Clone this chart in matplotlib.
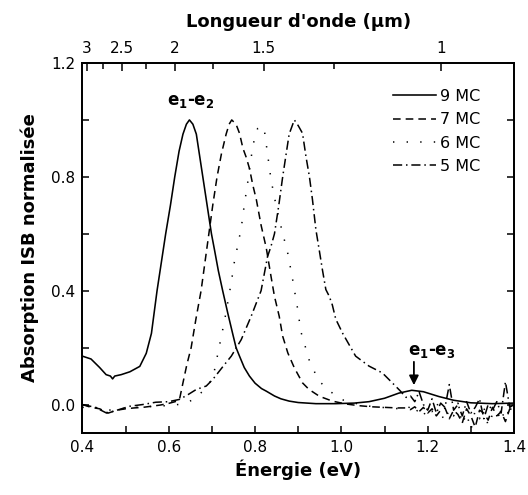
import matplotlib
matplotlib.use("Agg")
import matplotlib.pyplot as plt
from matplotlib.ticker import MultipleLocator, FixedLocator, NullFormatter

plt.rcParams['font.family'] = ['DejaVu Sans']
plt.rcParams['mathtext.default'] = 'bf'

# ---------------- data ----------------
labels = ["9 MC", "7 MC", "6 MC", "5 MC"]

e_9mc = [0.40, 0.42, 0.44, 0.455, 0.465, 0.47, 0.475, 0.49, 0.51, 0.533, 0.548, 0.56,
         0.573, 0.583, 0.593, 0.604, 0.614, 0.624, 0.633, 0.641, 0.648, 0.656, 0.664,
         0.671, 0.679, 0.689, 0.699, 0.706, 0.715, 0.725, 0.737, 0.748, 0.756, 0.764,
         0.775, 0.787, 0.80, 0.815, 0.826, 0.845, 0.86, 0.879, 0.90, 0.941, 0.987, 1.03,
         1.064, 1.10, 1.133, 1.163, 1.19, 1.226, 1.26, 1.30, 1.35, 1.40]
a_9mc = [0.17, 0.16, 0.13, 0.105, 0.10, 0.09, 0.10, 0.105, 0.115, 0.134, 0.18, 0.25,
         0.40, 0.50, 0.60, 0.70, 0.80, 0.89, 0.95, 0.985, 1.0, 0.985, 0.95,
         0.88, 0.80, 0.70, 0.60, 0.544, 0.47, 0.40, 0.32, 0.25, 0.20, 0.17,
         0.13, 0.10, 0.075, 0.056, 0.047, 0.03, 0.02, 0.012, 0.007, 0.003, 0.003, 0.005,
         0.01, 0.022, 0.04, 0.05, 0.045, 0.028, 0.015, 0.006, 0.003, 0.005]

e_7mc = [0.40, 0.42, 0.44, 0.46, 0.48, 0.50, 0.52, 0.54, 0.56, 0.58, 0.60, 0.615, 0.625,
         0.633, 0.642, 0.652, 0.663, 0.675, 0.684, 0.693, 0.702, 0.712, 0.722, 0.733,
         0.740, 0.746, 0.756, 0.764, 0.772, 0.779, 0.787, 0.795, 0.803, 0.814, 0.826,
         0.837, 0.845, 0.856, 0.864, 0.876, 0.891, 0.91, 0.925, 0.949, 0.979, 1.01, 1.04,
         1.07, 1.10, 1.13,
         1.15, 1.16, 1.17, 1.18, 1.19, 1.20, 1.21, 1.22, 1.23, 1.24, 1.25, 1.26, 1.27,
         1.28, 1.29, 1.30, 1.31, 1.32, 1.33, 1.34, 1.35, 1.36, 1.37, 1.38, 1.39, 1.40]
a_7mc = [0.00, -0.01, -0.015, -0.03, -0.02, -0.015, -0.012, -0.01, -0.006, -0.002, 0.004,
         0.01, 0.018, 0.076, 0.14, 0.20, 0.30, 0.40, 0.50, 0.60, 0.70, 0.80, 0.88, 0.95,
         0.985, 1.0, 0.985, 0.953, 0.90, 0.871, 0.83, 0.77, 0.72, 0.63, 0.55,
         0.45, 0.38, 0.31, 0.24, 0.181, 0.129, 0.076, 0.053, 0.029, 0.012, 0.002, -0.004,
         -0.008, -0.01, -0.012,
         -0.012, -0.018, -0.008, -0.025, -0.01, -0.03, -0.015, -0.04, -0.02, -0.012, -0.05,
         -0.02, -0.035, -0.065, -0.015, -0.04, -0.08, -0.02, -0.03, -0.055, -0.01, -0.04,
         -0.025, -0.06, -0.015, -0.02]

e_6mc = [0.40, 0.43, 0.46, 0.49, 0.52, 0.55, 0.58, 0.61, 0.64, 0.66, 0.679, 0.687, 0.699,
         0.706, 0.714, 0.722, 0.729, 0.737, 0.745, 0.752, 0.760, 0.768, 0.775, 0.783,
         0.790, 0.798, 0.806, 0.815, 0.822, 0.829, 0.837, 0.846, 0.856, 0.866, 0.876,
         0.887, 0.899, 0.906, 0.914, 0.925, 0.937, 0.949, 0.968, 0.999, 1.03, 1.06, 1.09,
         1.12,
         1.15, 1.16, 1.17, 1.18, 1.19, 1.20, 1.21, 1.22, 1.23, 1.24, 1.25, 1.26, 1.27,
         1.28, 1.29, 1.30, 1.31, 1.32, 1.33, 1.34, 1.35, 1.36, 1.37, 1.38, 1.39, 1.40]
a_6mc = [-0.01, -0.01, -0.02, -0.015, -0.01, -0.008, -0.005, -0.003, 0.005, 0.02, 0.047,
         0.064, 0.085, 0.12, 0.18, 0.24, 0.292, 0.36, 0.43, 0.50, 0.56, 0.62, 0.70, 0.78,
         0.86, 0.93, 0.97, 0.98, 0.96, 0.88, 0.79, 0.72, 0.65, 0.59, 0.53,
         0.44, 0.333, 0.257, 0.216, 0.158, 0.117, 0.082, 0.053, 0.018, 0.005, -0.005, -0.01,
         -0.012,
         -0.02, -0.005, -0.03, -0.015, -0.04, -0.01, -0.025, 0.01, -0.03, -0.06, -0.015,
         -0.04, 0.005, -0.07, -0.03, -0.09, -0.02, -0.05, -0.01, -0.075, -0.035, -0.02,
         -0.06, -0.01, -0.04, -0.025]

e_5mc = [0.40, 0.43, 0.456, 0.48, 0.51, 0.54, 0.57, 0.60, 0.625, 0.645, 0.664, 0.687,
         0.702, 0.714, 0.729, 0.745, 0.768, 0.791, 0.814, 0.829, 0.837, 0.845, 0.855,
         0.864, 0.872, 0.879, 0.891, 0.90, 0.91, 0.918, 0.926, 0.933, 0.941, 0.949, 0.956,
         0.964, 0.972, 0.979, 0.987, 1.003, 1.018, 1.033, 1.064, 1.095, 1.118, 1.135,
         1.15, 1.16, 1.17, 1.18, 1.19, 1.20, 1.21, 1.22, 1.23, 1.24, 1.25, 1.26, 1.27,
         1.28, 1.29, 1.30, 1.31, 1.32, 1.33, 1.34, 1.35, 1.36, 1.37, 1.38, 1.39, 1.40]
a_5mc = [0.0, -0.01, -0.03, -0.02, -0.006, 0.0, 0.008, 0.01, 0.018, 0.035, 0.053, 0.065,
         0.088, 0.111, 0.14, 0.17, 0.228, 0.31, 0.40, 0.52, 0.556, 0.60, 0.70,
         0.80, 0.88, 0.95, 1.0, 0.98, 0.953, 0.871, 0.80, 0.72, 0.614, 0.54, 0.474,
         0.404, 0.38, 0.35, 0.30, 0.25, 0.21, 0.17, 0.135, 0.111, 0.076, 0.05,
         0.025, 0.03, 0.01, 0.045, 0.0, -0.02, 0.02, -0.03, 0.005, -0.01, 0.07, -0.02,
         0.0, -0.04, 0.01, -0.03, -0.01, 0.02, -0.05, 0.0, -0.02, 0.01, -0.03, 0.08,
         -0.01, 0.0]

wavelength_major = [3, 2.5, 2, 1.5, 1]
wavelength_minor = [2.75, 2.25, 1.75, 1.25]
hc = 1.23  # eV·µm

# ---------------- figure ----------------
fig = plt.figure(figsize=(5.28, 4.95), dpi=100)
ax = fig.add_axes([0.156, 0.1253, 0.8176, 0.7474])

lw = 1.1
ax.plot(e_9mc, a_9mc, color='black', lw=1.15, ls='-', label=labels[0])
ax.plot(e_7mc, a_7mc, color='black', lw=lw, ls=(0, (5, 3.3)), label=labels[1])
ax.plot(e_6mc, a_6mc, color='black', lw=lw, ls=(0, (0.9, 8)), label=labels[2])
ax.plot(e_5mc, a_5mc, color='black', lw=lw, ls=(0, (6, 2.5, 1, 2.5)), label=labels[3])

ax.set_xlim(0.4, 1.4)
ax.set_ylim(-0.1, 1.2)
ax.xaxis.set_major_locator(MultipleLocator(0.2))
ax.xaxis.set_minor_locator(MultipleLocator(0.1))
ax.yaxis.set_major_locator(MultipleLocator(0.4))
ax.yaxis.set_minor_locator(MultipleLocator(0.2))
ax.xaxis.set_major_formatter(matplotlib.ticker.FuncFormatter(lambda v, p: f"{v:.1f}"))
ax.yaxis.set_major_formatter(matplotlib.ticker.FuncFormatter(lambda v, p: f"{v:.1f}"))
ax.tick_params(axis='both', which='major', direction='in', length=5, width=1.1,
               labelsize=11, right=True, top=False, pad=5)
ax.tick_params(axis='both', which='minor', direction='in', length=5, width=1.1,
               right=True, top=False)
for s in ax.spines.values():
    s.set_linewidth(1.3)

ax.set_xlabel('Énergie (eV)', fontsize=13, fontweight='bold', labelpad=3)
ax.set_ylabel('Absorption ISB normalisée', fontsize=13, fontweight='bold', labelpad=9)

# top wavelength axis
ax2 = ax.twiny()
ax2.set_xlim(ax.get_xlim())
ax2.xaxis.set_major_locator(FixedLocator([hc / l for l in wavelength_major]))
ax2.xaxis.set_minor_locator(FixedLocator([hc / l for l in wavelength_minor]))
ax2.set_xticklabels([f"{l:g}" for l in wavelength_major])
ax2.xaxis.set_minor_formatter(NullFormatter())
ax2.tick_params(axis='x', which='major', direction='in', length=6, width=1.1,
                labelsize=11, pad=5)
ax2.tick_params(axis='x', which='minor', direction='in', length=4, width=1.1)
ax2.set_xlabel("Longueur d'onde (µm)", fontsize=13, fontweight='bold', labelpad=10)
for s in ax2.spines.values():
    s.set_linewidth(1.3)

# annotations
ax.text(0.65, 1.035, 'e$_1$-e$_2$', fontsize=12, fontweight='bold',
        ha='center', va='bottom')
ax.text(1.21, 0.155, 'e$_1$-e$_3$', fontsize=12, fontweight='bold',
        ha='center', va='bottom')
ax.annotate('', xy=(1.168, 0.068), xytext=(1.168, 0.15),
            arrowprops=dict(arrowstyle='-|>', color='black', lw=1.3,
                            mutation_scale=14, shrinkA=0, shrinkB=0))

leg = ax.legend(loc='upper left', bbox_to_anchor=(0.72, 0.93), frameon=False,
                fontsize=11.5, handlelength=2.7, handletextpad=0.25,
                labelspacing=0.52, borderpad=0, borderaxespad=0)

fig.savefig('out.png', dpi=100)
